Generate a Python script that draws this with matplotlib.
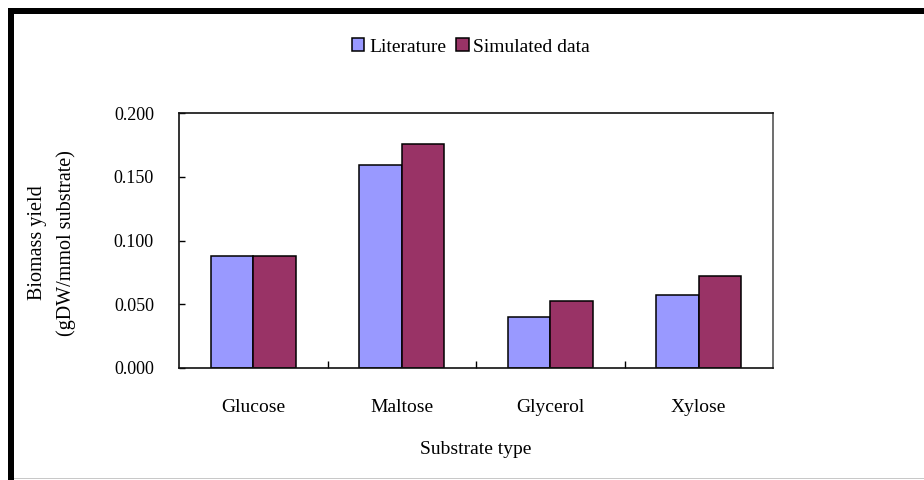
import matplotlib
matplotlib.use('Agg')
import matplotlib.pyplot as plt
from matplotlib.patches import Rectangle
from matplotlib.ticker import FormatStrFormatter
import numpy as np

# biomass yield per substrate (gDW/mmol substrate)
substrates = ['Glucose', 'Maltose', 'Glycerol', 'Xylose']
literature = [0.088, 0.159, 0.040, 0.057]
simulated = [0.088, 0.176, 0.0525, 0.0725]

plt.rcParams['font.family'] = ['Liberation Serif', 'DejaVu Serif']

fig = plt.figure(figsize=(9.24, 4.8), dpi=100)
fig.patch.set_facecolor('white')

# black frame on top and left, thin grey line at the bottom
fig.patches.append(Rectangle((8/924, 0), 6/924, 1 - 8/480, transform=fig.transFigure,
                             facecolor='black', edgecolor='none'))
fig.patches.append(Rectangle((8/924, 1 - 14/480), 1, 6/480, transform=fig.transFigure,
                             facecolor='black', edgecolor='none'))
fig.patches.append(Rectangle((14/924, 1/480), 1, 1.5/480, transform=fig.transFigure,
                             facecolor='#c8c8c8', edgecolor='none'))

ax = fig.add_axes([179/924, 112/480, 594/924, 255/480])

x = np.arange(len(substrates))
w = 0.286
b1 = ax.bar(x - w/2, literature, w, color='#9999ff', edgecolor='black', linewidth=1.1,
            label='Literature')
b2 = ax.bar(x + w/2, simulated, w, color='#993366', edgecolor='black', linewidth=1.1,
            label='Simulated data')

ax.set_xlim(-0.5, 3.5)
ax.set_ylim(0, 0.2)
ax.set_yticks(np.arange(0, 0.201, 0.05))
ax.yaxis.set_major_formatter(FormatStrFormatter('%.3f'))
ax.tick_params(axis='y', direction='in', length=4, width=1, pad=18, labelsize=13)

ax.set_xticks(x)
ax.set_xticklabels(substrates)
ax.set_xticks([0.5, 1.5, 2.5], minor=True)
ax.tick_params(axis='x', which='major', length=0, pad=22, labelsize=14)
ax.tick_params(axis='x', which='minor', direction='in', length=5, width=1)

for s in ['left', 'top', 'bottom']:
    ax.spines[s].set_linewidth(1.2)
    ax.spines[s].set_color('#111111')
ax.spines['right'].set_linewidth(1.2)
ax.spines['right'].set_color('#555555')

ax.set_xlabel('Substrate type', fontsize=14, labelpad=18)
ax.set_ylabel('Biomass yield\n(gDW/mmol substrate)', fontsize=14.5, linespacing=1.6)
ax.yaxis.set_label_coords(-103/594, 0.49)

fig.legend(handles=[b1, b2], loc='center', bbox_to_anchor=(471/924, 1 - 47/480),
           ncol=2, frameon=False, fontsize=14, handlelength=0.65, handleheight=0.65,
           handletextpad=0.25, columnspacing=0.5)

fig.savefig('out.png', dpi=100, facecolor='white')
